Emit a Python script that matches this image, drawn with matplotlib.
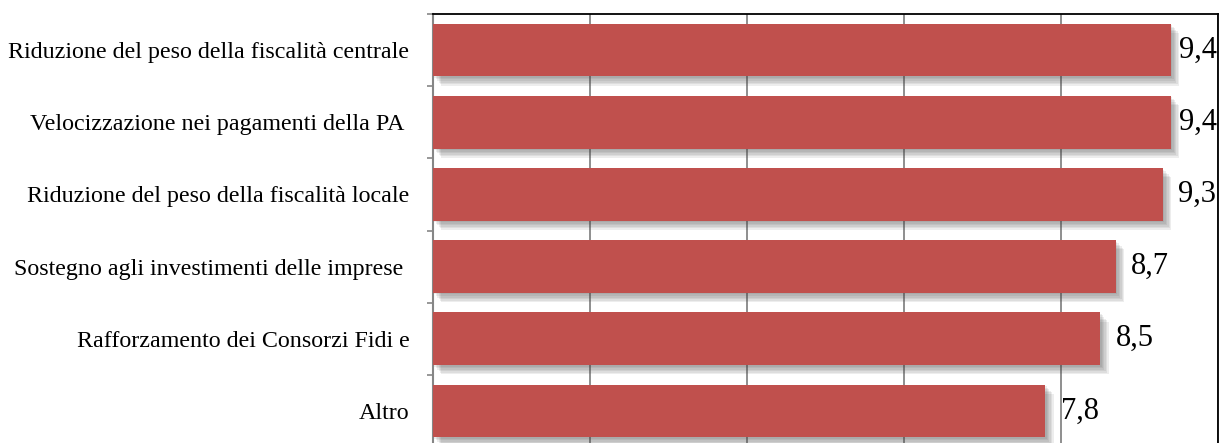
import matplotlib
matplotlib.use("Agg")
import matplotlib.pyplot as plt
import matplotlib.patheffects as pe
import numpy as np

categories = [
    "Riduzione del peso della fiscalità centrale",
    "Velocizzazione nei pagamenti della PA ",
    "Riduzione del peso della fiscalità locale",
    "Sostegno agli investimenti delle imprese ",
    "Rafforzamento dei Consorzi Fidi e",
    "Altro",
]
values = [9.4, 9.4, 9.3, 8.7, 8.5, 7.8]
value_labels = ["9,4", "9,4", "9,3", "8,7", "8,5", "7,8"]

BAR = "#C0504D"
GRID = "#868686"

plt.rcParams["font.family"] = ["Liberation Serif", "DejaVu Serif"]

fig = plt.figure(figsize=(12.19, 4.43), dpi=100)
ax = fig.add_axes([433 / 1219, -4 / 443, 785 / 1219, 433 / 443])

y = np.arange(len(categories))
# soft drop shadow built from a few stacked offsets
shadow = [pe.SimplePatchShadow(offset=(d, -d * 1.1), shadow_rgbFace="#404040", alpha=0.09)
          for d in (1.0, 2.0, 3.0, 4.0, 5.0, 6.0)]
bars = ax.barh(y, values, height=0.73, color=BAR, zorder=3)
for b in bars:
    b.set_path_effects(shadow + [pe.Normal()])

ax.set_xlim(0, 10)
ax.set_ylim(len(categories) - 0.5, -0.5)
ax.set_xticks(np.arange(0, 11, 2))
ax.xaxis.grid(True, color=GRID, linewidth=1.3, zorder=0)
ax.set_axisbelow(True)
ax.tick_params(axis="x", length=0, labelbottom=False)

ax.set_yticks(y)
ax.set_yticklabels(categories, fontsize=17.3)
ax.tick_params(axis="y", which="major", length=0, pad=17)
ax.set_yticks(np.arange(-0.5, len(categories) + 0.5, 1), minor=True)
ax.tick_params(axis="y", which="minor", length=4, width=1.2, color=GRID)

ax.spines["left"].set_color(GRID)
ax.spines["left"].set_linewidth(1.5)
for s in ("top", "right"):
    ax.spines[s].set_color("black")
    ax.spines[s].set_linewidth(1.3)
ax.spines["bottom"].set_visible(False)

fig.canvas.draw()
renderer = fig.canvas.get_renderer()
right_px = ax.transData.transform((10, 0))[0]
for yi, v, lab in zip(y, values, value_labels):
    t = ax.annotate(lab, (v, yi), xytext=(11, 0), textcoords="offset points",
                    ha="left", va="center", fontsize=22, zorder=5,
                    annotation_clip=False)
    ext = t.get_window_extent(renderer)
    if ext.x1 > right_px:
        t.remove()
        ax.annotate(lab, (10, yi), xytext=(-1, 0), textcoords="offset points",
                    ha="right", va="center", fontsize=22, zorder=5,
                    annotation_clip=False)

fig.savefig("out.png", dpi=100)
